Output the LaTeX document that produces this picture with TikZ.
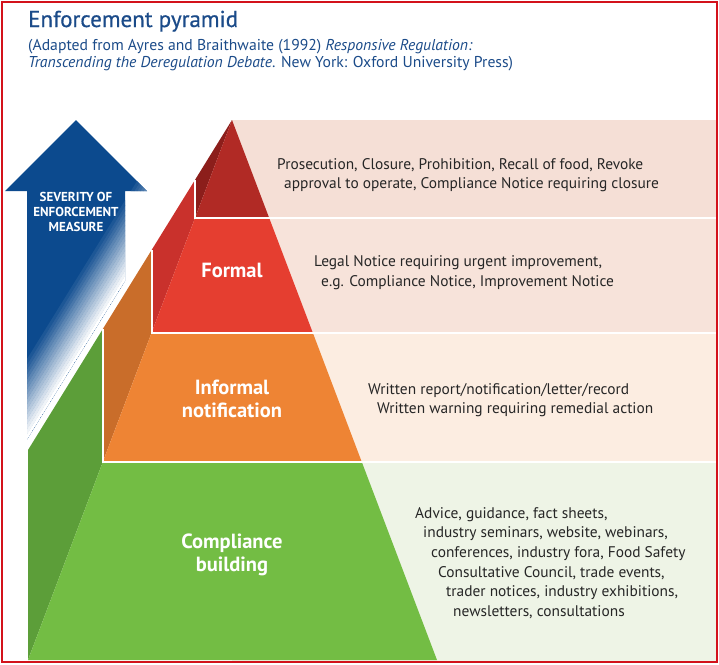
\documentclass[tikz,border=0pt]{standalone}
\usepackage{fontspec}
\setmainfont{PT Sans}
\usepackage{tikz}
\usetikzlibrary{positioning}

\definecolor{titleblue}{HTML}{1B4B89}
\definecolor{arrowblue}{HTML}{0C4A8E}
\definecolor{borderred}{HTML}{D3121B}
\definecolor{textgray}{HTML}{262626}
\definecolor{topfront}{HTML}{B12A25}
\definecolor{topside}{HTML}{8C1E1B}
\definecolor{formfront}{HTML}{E53E30}
\definecolor{formside}{HTML}{C9312C}
\definecolor{inffront}{HTML}{EE8434}
\definecolor{infside}{HTML}{C96D2A}
\definecolor{grnfront}{HTML}{73BD44}
\definecolor{grnside}{HTML}{5C9E39}
\definecolor{bandtop}{HTML}{F5DFD6}
\definecolor{bandform}{HTML}{F7E3DA}
\definecolor{bandinf}{HTML}{FCEDE1}
\definecolor{bandgrn}{HTML}{EEF4E6}

\begin{document}
\begin{tikzpicture}[x=1pt, y=-1pt,
    tierlbl/.style={text=white, font=\bfseries\fontsize{20.5}{23.5}\selectfont, align=center},
    bandtxt/.style={anchor=west, inner sep=0pt, align=left, text=textgray,
                    font=\fontsize{15.4}{19.7}\selectfont},
    sepline/.style={draw=white, line width=2pt}]

  \useasboundingbox (0,0) rectangle (719,664);

  %% ─── Heading ────────────────────────────────────────────────────────────
  \node[anchor=base west, inner sep=0pt, text=titleblue,
        font=\fontsize{23}{28}\selectfont\addfontfeatures{FakeBold=0.6}] (title) at (28,27)
      {Enforcement pyramid};
  \node[anchor=base west, inner sep=0pt, text=titleblue,
        font=\fontsize{15.7}{17}\selectfont] (src1) at (28,50)
      {(Adapted from Ayres and Braithwaite (1992) \textit{Responsive Regulation:}};
  \node[anchor=base west, inner sep=0pt, text=titleblue,
        font=\fontsize{15.7}{17}\selectfont] (src2) at (28,67)
      {\textit{Transcending the Deregulation Debate}. New York: Oxford University Press)};

  %% ─── Bands behind the pyramid ───────────────────────────────────────────
  \fill[bandtop]  (232,120) rectangle (717,218);
  \fill[bandform] (232,218) rectangle (717,333);
  \fill[bandinf]  (232,333) rectangle (717,462);
  \fill[bandgrn]  (232,462) rectangle (717,661);

  %% ─── Pyramid: side faces and front faces ────────────────────────────────
  \fill[grnside]   (28,450) -- (102.8,329) -- (102.8,462) -- (28,660) -- cycle;
  \fill[grnfront]  (102.8,462) -- (361.8,462) -- (437,660) -- (28,660) -- cycle;
  \fill[infside]   (102.8,329) -- (151.5,250.2) -- (151.5,333) -- (102.8,462) -- cycle;
  \fill[inffront]  (151.5,333) -- (312.9,333) -- (361.8,462) -- (102.8,462) -- cycle;
  \fill[formside]  (151.5,250.2) -- (195,179.9) -- (195,218) -- (151.5,333) -- cycle;
  \fill[formfront] (195,218) -- (269.2,218) -- (312.9,333) -- (151.5,333) -- cycle;
  \fill[topside]   (195,179.9) -- (232,120) -- (195,218) -- cycle;
  \fill[topfront]  (232,120) -- (269.2,218) -- (195,218) -- cycle;

  %% white step lines between tiers
  \draw[sepline] (195,179.9) -- (195,218) -- (717,218);
  \draw[sepline] (151.5,250.2) -- (151.5,333) -- (717,333);
  \draw[sepline] (102.8,329) -- (102.8,462) -- (717,462);

  %% ─── Severity arrow ─────────────────────────────────────────────────────
  \fill[arrowblue] (76,120) -- (147,191) -- (125,191) -- (125,281.1)
      -- (27,439.6) -- (27,191) -- (5,191) -- cycle;
  \begin{scope}
    \clip (76,120) -- (147,191) -- (125,191) -- (125,281.1)
      -- (27,439.6) -- (27,191) -- (5,191) -- cycle;
    %% fade to white towards the cut
    \foreach \k in {0,...,15} {
      \pgfmathsetmacro\lo{\k*5}
      \pgfmathsetmacro\hi{\k*5+5.6}
      \pgfmathtruncatemacro\mix{100*\k/16}
      \fill[arrowblue!\mix!white] (0,{483.3-\lo}) -- (160,{224.5-\lo})
          -- (160,{224.5-\hi}) -- (0,{483.3-\hi}) -- cycle;
    }
  \end{scope}
  \node[text=white, align=center, font=\bfseries\fontsize{13}{15.3}\selectfont]
      (sev) at (76,212) {SEVERITY OF\\ENFORCEMENT\\MEASURE};

  %% ─── Tier labels ────────────────────────────────────────────────────────
  \node[tierlbl] (formal)   at (232,270) {Formal};
  \node[tierlbl] (informal) at (232,399) {Informal\\notification};
  \node[tierlbl] (building) at (232,555) {Compliance\\building};

  %% ─── Measures per tier ──────────────────────────────────────────────────
  \node[bandtxt] (prosec) at (277,175)
      {Prosecution, Closure, Prohibition, Recall of food, Revoke\\
       \hspace*{7pt}approval to operate, Compliance Notice requiring closure};
  \node[bandtxt] (legal) at (314,273)
      {Legal Notice requiring urgent improvement,\\
       \hspace*{7pt}e.g. Compliance Notice, Improvement Notice};
  \node[bandtxt] (written) at (368,400)
      {Written report/notification/letter/record\\
       \hspace*{9pt}Written warning requiring remedial action};
  \node[bandtxt] (advice) at (415,563)
      {Advice, guidance, fact sheets,\\
       \hspace*{8pt}industry seminars, website, webinars,\\
       \hspace*{16pt}conferences, industry fora, Food Safety\\
       \hspace*{23pt}Consultative Council, trade events,\\
       \hspace*{31pt}trader notices, industry exhibitions,\\
       \hspace*{38pt}newsletters, consultations};

  %% frame
  \draw[borderred, line width=1.5pt] (2,2) rectangle (717,662);

\end{tikzpicture}
\end{document}
